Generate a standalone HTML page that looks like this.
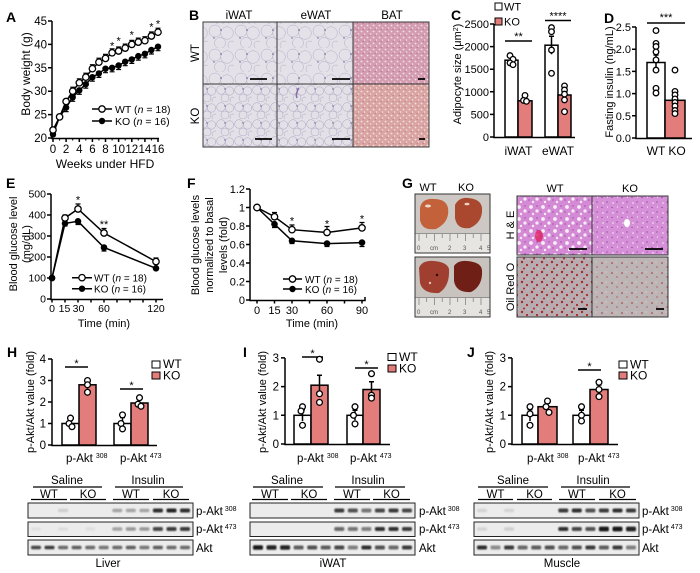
<!DOCTYPE html>
<html><head><meta charset="utf-8"><style>
html,body{margin:0;padding:0;background:#fff;}
svg{display:block;font-family:"Liberation Sans",Arial,sans-serif;}
</style></head><body>
<svg width="700" height="573" viewBox="0 0 700 573" xmlns="http://www.w3.org/2000/svg">
<defs>
<pattern id="adW" width="26" height="24" patternUnits="userSpaceOnUse">
<rect width="26" height="24" fill="#e4e2e8"/>
<g fill="none" stroke="#8a7ca8" stroke-width=".5" opacity=".55"><circle cx="7" cy="7" r="6"/><circle cx="19" cy="9" r="6.3"/><circle cx="12" cy="19" r="5.5"/><circle cx="24" cy="21" r="4"/></g>
<circle cx="13" cy="6" r=".8" fill="#6a5794"/><circle cx="6" cy="14" r=".7" fill="#6a5794"/>
</pattern>
<pattern id="adK" width="18" height="17" patternUnits="userSpaceOnUse">
<rect width="18" height="17" fill="#e3e1e7"/>
<g fill="none" stroke="#8474a4" stroke-width=".5" opacity=".6"><circle cx="5" cy="5" r="4.3"/><circle cx="13.5" cy="6" r="4.2"/><circle cx="9" cy="13" r="4"/><circle cx="17" cy="15" r="3"/></g>
<circle cx="9" cy="4" r=".7" fill="#6a5794"/>
</pattern>
<pattern id="batW" width="6" height="6" patternUnits="userSpaceOnUse">
<rect width="6" height="6" fill="#d49cb0"/><circle cx="1.5" cy="1.5" r=".9" fill="#f3e2e8"/><circle cx="4.5" cy="4" r=".8" fill="#f3e2e8"/><circle cx="3.2" cy="5.3" r=".5" fill="#99557d"/>
</pattern>
<pattern id="batK" width="6" height="6" patternUnits="userSpaceOnUse">
<rect width="6" height="6" fill="#d9a4a2"/><circle cx="1.5" cy="1.5" r=".9" fill="#f4e3e0"/><circle cx="4.5" cy="4" r=".8" fill="#f4e3e0"/><circle cx="3.2" cy="5.3" r=".5" fill="#a46070"/>
</pattern>
<pattern id="heW" width="12" height="12" patternUnits="userSpaceOnUse">
<rect width="12" height="12" fill="#d58ad6"/><circle cx="3" cy="3" r="1.9" fill="#f7eef8"/><circle cx="9" cy="7" r="1.6" fill="#f7eef8"/><circle cx="5" cy="10" r="1.2" fill="#f7eef8"/><circle cx="9" cy="2" r=".6" fill="#7d3592"/><circle cx="1" cy="8" r=".6" fill="#7d3592"/>
</pattern>
<pattern id="heK" width="10" height="10" patternUnits="userSpaceOnUse">
<rect width="10" height="10" fill="#d690d8"/><circle cx="3" cy="3" r=".8" fill="#f7eef8"/><circle cx="7.5" cy="7" r=".6" fill="#f7eef8"/><circle cx="7" cy="2" r=".6" fill="#7d3592"/><circle cx="2" cy="7.5" r=".6" fill="#7d3592"/>
</pattern>
<pattern id="orW" width="10" height="10" patternUnits="userSpaceOnUse">
<rect width="10" height="10" fill="#b8acb0"/><circle cx="2" cy="2" r="1.2" fill="#a52a2a"/><circle cx="7" cy="5" r="1.1" fill="#a52a2a"/><circle cx="4" cy="8.5" r="1" fill="#a52a2a"/><circle cx="8" cy="9" r=".5" fill="#eee"/>
</pattern>
<pattern id="orK" width="10" height="10" patternUnits="userSpaceOnUse">
<rect width="10" height="10" fill="#bdb4b6"/><circle cx="2" cy="3" r=".8" fill="#a83030"/><circle cx="7" cy="7" r=".6" fill="#a83030"/><circle cx="6" cy="2" r=".5" fill="#eee"/>
</pattern>
<filter id="bl" x="-20%" y="-50%" width="140%" height="200%"><feGaussianBlur stdDeviation="0.7"/></filter>
</defs>
<rect width="700" height="573" fill="#fff"/>

<!-- Panel letters -->
<g font-weight="bold" font-size="14">
<text x="6" y="22">A</text><text x="189" y="20">B</text><text x="451" y="20">C</text><text x="604" y="23">D</text>
<text x="6" y="188">E</text><text x="187" y="188">F</text><text x="402" y="188">G</text>
<text x="7" y="357">H</text><text x="243" y="357">I</text><text x="467" y="357">J</text>
</g>

<!-- ===== Panel A ===== -->
<g stroke="#000" stroke-width="1.5" fill="none">
<path d="M52 21V138.5H159"/>
<path d="M48 138H52M48 114.6H52M48 91.2H52M48 67.8H52M48 44.4H52M48 21H52"/>
<path d="M53 138V142M66.1 138V142M79.3 138V142M92.4 138V142M105.5 138V142M118.6 138V142M131.8 138V142M144.9 138V142M158 138V142"/>
<path stroke-width="1" d="M59.6 138V140.5M72.7 138V140.5M85.8 138V140.5M98.9 138V140.5M112.1 138V140.5M125.2 138V140.5M138.3 138V140.5M151.4 138V140.5"/>
</g>
<g font-size="11.5" text-anchor="end">
<text x="47" y="142">20</text><text x="47" y="118.6">25</text><text x="47" y="95.2">30</text><text x="47" y="71.8">35</text><text x="47" y="48.4">40</text><text x="47" y="25">45</text>
</g>
<g font-size="11.5" text-anchor="middle">
<text x="53" y="153">0</text><text x="66.1" y="153">2</text><text x="79.3" y="153">4</text><text x="92.4" y="153">6</text><text x="105.5" y="153">8</text><text x="118.6" y="153">10</text><text x="131.8" y="153">12</text><text x="144.9" y="153">14</text><text x="158" y="153">16</text>
</g>
<text x="105" y="168" font-size="12" text-anchor="middle">Weeks under HFD</text>
<text transform="translate(30,74) rotate(-90)" font-size="12" text-anchor="middle">Body weight (g)</text>
<g stroke="#000" stroke-width="1.2" fill="none">
<path d="M53 134.3V136.3M50.5 136.3h5M59.6 116.9V118.9M57.1 118.9h5M66.1 107.6V111.6M63.6 111.6h5M72.7 97.3V101.3M70.2 101.3h5M79.3 90.3V94.3M76.8 94.3h5M85.8 84.2V88.2M83.3 88.2h5M92.4 77.2V81.2M89.9 81.2h5M98.9 73.4V77.4M96.4 77.4h5M105.5 68.7V72.7M103 72.7h5M112.1 67.8V71.8M109.6 71.8h5M118.6 65.5V69.5M116.1 69.5h5M125.2 61.7V65.7M122.7 65.7h5M131.8 59.4V63.4M129.3 63.4h5M138.3 56.1V60.1M135.8 60.1h5M144.9 53.8V57.8M142.4 57.8h5M151.4 50V54M148.9 54h5M158 46.7V50.7M155.5 50.7h5"/>
<path d="M53 130V128M50.5 128h5M59.6 116.9V114.9M57.1 114.9h5M66.1 101.5V99.5M63.6 99.5h5M72.7 91.2V87.2M70.2 87.2h5M79.3 82.8V78.8M76.8 78.8h5M85.8 77.2V73.2M83.3 73.2h5M92.4 68.7V64.7M89.9 64.7h5M98.9 62.2V58.2M96.4 58.2h5M105.5 58.4V54.4M103 54.4h5M112.1 52.8V48.8M109.6 48.8h5M118.6 51V47M116.1 47h5M125.2 48.1V44.1M122.7 44.1h5M131.8 44.4V40.4M129.3 40.4h5M138.3 42.1V38.1M135.8 38.1h5M144.9 40.7V36.7M142.4 36.7h5M151.4 36V32M148.9 32h5M158 32.2V28.2M155.5 28.2h5"/>
<polyline stroke-width="1.5" points="53,134.3 59.6,116.9 66.1,107.6 72.7,97.3 79.3,90.3 85.8,84.2 92.4,77.2 98.9,73.4 105.5,68.7 112.1,67.8 118.6,65.5 125.2,61.7 131.8,59.4 138.3,56.1 144.9,53.8 151.4,50 158,46.7"/>
<polyline stroke-width="1.5" points="53,130 59.6,116.9 66.1,101.5 72.7,91.2 79.3,82.8 85.8,77.2 92.4,68.7 98.9,62.2 105.5,58.4 112.1,52.8 118.6,51 125.2,48.1 131.8,44.4 138.3,42.1 144.9,40.7 151.4,36 158,32.2"/>
</g>
<g fill="#000">
<circle cx="53" cy="134.3" r="3.2"/><circle cx="59.6" cy="116.9" r="3.2"/><circle cx="66.1" cy="107.6" r="3.2"/><circle cx="72.7" cy="97.3" r="3.2"/><circle cx="79.3" cy="90.3" r="3.2"/><circle cx="85.8" cy="84.2" r="3.2"/><circle cx="92.4" cy="77.2" r="3.2"/><circle cx="98.9" cy="73.4" r="3.2"/><circle cx="105.5" cy="68.7" r="3.2"/><circle cx="112.1" cy="67.8" r="3.2"/><circle cx="118.6" cy="65.5" r="3.2"/><circle cx="125.2" cy="61.7" r="3.2"/><circle cx="131.8" cy="59.4" r="3.2"/><circle cx="138.3" cy="56.1" r="3.2"/><circle cx="144.9" cy="53.8" r="3.2"/><circle cx="151.4" cy="50" r="3.2"/><circle cx="158" cy="46.7" r="3.2"/>
</g>
<g fill="#fff" stroke="#000" stroke-width="1.3">
<circle cx="53" cy="130" r="3.2"/><circle cx="59.6" cy="116.9" r="3.2"/><circle cx="66.1" cy="101.5" r="3.2"/><circle cx="72.7" cy="91.2" r="3.2"/><circle cx="79.3" cy="82.8" r="3.2"/><circle cx="85.8" cy="77.2" r="3.2"/><circle cx="92.4" cy="68.7" r="3.2"/><circle cx="98.9" cy="62.2" r="3.2"/><circle cx="105.5" cy="58.4" r="3.2"/><circle cx="112.1" cy="52.8" r="3.2"/><circle cx="118.6" cy="51" r="3.2"/><circle cx="125.2" cy="48.1" r="3.2"/><circle cx="131.8" cy="44.4" r="3.2"/><circle cx="138.3" cy="42.1" r="3.2"/><circle cx="144.9" cy="40.7" r="3.2"/><circle cx="151.4" cy="36" r="3.2"/><circle cx="158" cy="32.2" r="3.2"/>
</g>
<g font-size="11" text-anchor="middle">
<text x="112.1" y="49.5">*</text><text x="118.6" y="44.5">*</text><text x="131.8" y="38.5">*</text><text x="151.4" y="30.5">*</text><text x="158" y="27.5">*</text>
</g>
<g stroke="#000" stroke-width="1.5"><path d="M92 109H112M92 121H112"/></g>
<circle cx="102" cy="109" r="3.2" fill="#fff" stroke="#000" stroke-width="1.3"/>
<circle cx="102" cy="121" r="3.2" fill="#000"/>
<text x="115" y="113" font-size="10.5">WT (<tspan font-style="italic">n</tspan> = 18)</text>
<text x="115" y="125" font-size="10.5">KO (<tspan font-style="italic">n</tspan> = 16)</text>

<!-- ===== Panel B ===== -->
<g font-size="11.5" text-anchor="middle">
<text x="239" y="19">iWAT</text><text x="316" y="19">eWAT</text><text x="392" y="19">BAT</text>
<text transform="translate(199,53) rotate(-90)">WT</text>
<text transform="translate(199,116) rotate(-90)">KO</text>
</g>
<rect x="203" y="22" width="74" height="62" fill="url(#adW)"/>
<rect x="277" y="22" width="76" height="62" fill="url(#adW)"/>
<rect x="353" y="22" width="76" height="62" fill="url(#batW)"/>
<rect x="203" y="84" width="74" height="63" fill="url(#adK)"/>
<rect x="277" y="84" width="76" height="63" fill="url(#adK)"/>
<rect x="353" y="84" width="76" height="63" fill="url(#batK)"/>
<g fill="none" stroke="#3a3a3a" stroke-width="1">
<rect x="203" y="22" width="74" height="62"/><rect x="277" y="22" width="76" height="62"/><rect x="353" y="22" width="76" height="62"/>
<rect x="203" y="84" width="74" height="63"/><rect x="277" y="84" width="76" height="63"/><rect x="353" y="84" width="76" height="63"/>
</g>
<path d="M299 88q-4 6 -2 10" stroke="#8a6aa8" stroke-width="1.5" fill="none"/>
<g stroke="#000" stroke-width="1.8">
<path d="M250 79H267M332 79H350M418 79H425M255 139H272M332 139H350M419 139H425"/>
</g>

<!-- ===== Panel C ===== -->
<g stroke="#000" stroke-width="1.5" fill="none">
<path d="M494 24V137.5H575"/>
<path d="M490 137H494M490 114.4H494M490 91.8H494M490 69.2H494M490 46.6H494M490 24H494"/>
</g>
<g font-size="11" text-anchor="end">
<text x="489" y="141">0</text><text x="489" y="118.4">500</text><text x="489" y="95.8">1000</text><text x="489" y="73.2">1500</text><text x="489" y="50.6">2000</text><text x="489" y="28">2500</text>
</g>
<text transform="translate(461,74) rotate(-90)" font-size="11" text-anchor="middle">Adipocyte size (μm<tspan font-size="7" dy="-3">2</tspan><tspan dy="3">)</tspan></text>
<g stroke="#000" stroke-width="1.5">
<rect x="505" y="60.2" width="13" height="76.8" fill="#fff"/>
<rect x="518" y="100.8" width="14" height="36.2" fill="#e37d7b"/>
<rect x="545" y="45.2" width="13" height="91.8" fill="#fff"/>
<rect x="558" y="95" width="13" height="42" fill="#e37d7b"/>
<path fill="none" d="M511.5 56.6V63.8M509 56.6h5M525 98.8V102.8M522.5 98.8h5M551.5 36.2V54.2M549 36.2h5M564.5 90.5V99.5M562 90.5h5"/>
<path d="M505 41H532M545 20.5H571"/>
</g>
<g fill="#fff" stroke="#000" stroke-width="1.3">
<circle cx="510" cy="55.6" r="2.8"/><circle cx="513" cy="59.3" r="2.8"/><circle cx="510" cy="62.9" r="2.8"/><circle cx="513" cy="64.7" r="2.8"/>
<circle cx="525" cy="95.4" r="2.8"/><circle cx="523.5" cy="100.4" r="2.8"/><circle cx="526.5" cy="101.3" r="2.8"/>
<circle cx="551.5" cy="27.6" r="2.8"/><circle cx="551.5" cy="31.7" r="2.8"/><circle cx="551.5" cy="50" r="2.8"/><circle cx="551.5" cy="73.3" r="2.8"/>
<circle cx="564.5" cy="85.9" r="2.8"/><circle cx="564.5" cy="90" r="2.8"/><circle cx="564.5" cy="94.1" r="2.8"/><circle cx="564.5" cy="99.9" r="2.8"/><circle cx="564.5" cy="111.7" r="2.8"/>
</g>
<g font-size="11" text-anchor="middle"><text x="518.5" y="40">**</text><text x="558" y="19.5">****</text></g>
<rect x="495" y="3" width="7" height="7" fill="#fff" stroke="#000" stroke-width="1"/>
<text x="504" y="10.5" font-size="11">WT</text>
<rect x="495" y="18" width="7" height="7" fill="#e37d7b" stroke="#000" stroke-width="1"/>
<text x="504" y="25.5" font-size="11">KO</text>
<g font-size="12" text-anchor="middle"><text x="518.5" y="155">iWAT</text><text x="558" y="155">eWAT</text></g>

<!-- ===== Panel D ===== -->
<g stroke="#000" stroke-width="1.5" fill="none">
<path d="M636 27V138.5H692"/>
<path d="M632 138H636M632 115.8H636M632 93.6H636M632 71.4H636M632 49.2H636M632 27H636"/>
</g>
<g font-size="11" text-anchor="end">
<text x="631" y="142">0.0</text><text x="631" y="119.8">0.5</text><text x="631" y="97.6">1.0</text><text x="631" y="75.4">1.5</text><text x="631" y="53.2">2.0</text><text x="631" y="31">2.5</text>
</g>
<text transform="translate(613,82) rotate(-90)" font-size="11" text-anchor="middle">Fasting insulin (ng/mL)</text>
<g stroke="#000" stroke-width="1.5">
<rect x="647" y="62.5" width="18" height="75.5" fill="#fff"/>
<rect x="665" y="100.3" width="20" height="37.7" fill="#e37d7b"/>
<path fill="none" d="M656 55V70M653.5 55h5M675 96.3V104.3M672.5 96.3h5M647 23H685"/>
</g>
<g fill="#fff" stroke="#000" stroke-width="1.3">
<circle cx="656" cy="30.6" r="2.8"/><circle cx="656" cy="43.4" r="2.8"/><circle cx="656" cy="46.5" r="2.8"/><circle cx="656" cy="51.9" r="2.8"/><circle cx="656" cy="59.9" r="2.8"/><circle cx="656" cy="70.1" r="2.8"/><circle cx="656" cy="88.3" r="2.8"/><circle cx="656" cy="93" r="2.8"/>
<circle cx="675" cy="70.1" r="2.8"/><circle cx="675" cy="91.4" r="2.8"/><circle cx="675" cy="94.9" r="2.8"/><circle cx="675" cy="98.9" r="2.8"/><circle cx="675" cy="102.5" r="2.8"/><circle cx="675" cy="106" r="2.8"/><circle cx="675" cy="110.5" r="2.8"/><circle cx="675" cy="113.6" r="2.8"/>
</g>
<text x="666" y="21" font-size="11" text-anchor="middle">***</text>
<g font-size="12" text-anchor="middle"><text x="656" y="155">WT</text><text x="677" y="155">KO</text></g>

<!-- ===== Panel E ===== -->
<g stroke="#000" stroke-width="1.5" fill="none">
<path d="M51 194V299.5H163"/>
<path d="M47 299H51M47 278H51M47 257H51M47 236H51M47 215H51M47 194H51"/>
<path d="M52 299V302.5M65 299V302.5M78 299V302.5M91 299V302.5M104 299V302.5M117 299V302.5M130 299V302.5M143 299V302.5M156 299V302.5"/>
</g>
<g font-size="10.5" text-anchor="end">
<text x="46" y="302.5">0</text><text x="46" y="281.5">100</text><text x="46" y="260.5">200</text><text x="46" y="239.5">300</text><text x="46" y="218.5">400</text><text x="46" y="197.5">500</text>
</g>
<g font-size="10.5" text-anchor="middle">
<text x="52" y="312">0</text><text x="64.5" y="312">15</text><text x="78.5" y="312">30</text><text x="104" y="312">60</text><text x="156" y="312">120</text>
</g>
<text x="104" y="327" font-size="11" text-anchor="middle">Time (min)</text>
<text transform="translate(17,244) rotate(-90)" font-size="11" text-anchor="middle">Blood glucose level</text>
<text transform="translate(30,244) rotate(-90)" font-size="11" text-anchor="middle">(mg/dL)</text>
<g stroke="#000" stroke-width="1.2" fill="none">
<path d="M78 209V204M75.5 204h5M104 233V228.5M101.5 228.5h5M65 218V215M62.5 215h5M156 261.6V258M153.5 258h5"/>
<path d="M65 223.4V226M62.5 226h5M78 221.3V224.5M75.5 224.5h5M104 247.5V251M101.5 251h5"/>
<polyline stroke-width="1.5" points="52,278 65,223.4 78,221.3 104,247.5 156,268.3"/>
<polyline stroke-width="1.5" points="52,278 65,218 78,209 104,233 156,261.6"/>
</g>
<g fill="#000"><circle cx="52" cy="278" r="3.3"/><circle cx="65" cy="223.4" r="3.3"/><circle cx="78" cy="221.3" r="3.3"/><circle cx="104" cy="247.5" r="3.3"/><circle cx="156" cy="268.3" r="3.3"/></g>
<g fill="#fff" stroke="#000" stroke-width="1.3"><circle cx="65" cy="218" r="3.2"/><circle cx="78" cy="209" r="3.2"/><circle cx="104" cy="233" r="3.2"/><circle cx="156" cy="261.6" r="3.2"/></g>
<circle cx="52" cy="278" r="3.3" fill="#000"/>
<g font-size="11" text-anchor="middle"><text x="78" y="203.5">*</text><text x="104" y="228">**</text></g>
<path d="M72 277.7H92M72 288.7H92" stroke="#000" stroke-width="1.5"/>
<circle cx="82" cy="277.7" r="3.2" fill="#fff" stroke="#000" stroke-width="1.3"/>
<circle cx="82" cy="288.7" r="3.2" fill="#000"/>
<text x="94" y="281.5" font-size="10">WT (<tspan font-style="italic">n</tspan> = 18)</text>
<text x="94" y="292.5" font-size="10">KO (<tspan font-style="italic">n</tspan> = 16)</text>

<!-- ===== Panel F ===== -->
<g stroke="#000" stroke-width="1.5" fill="none">
<path d="M250 189V300.5H365V297"/>
<path d="M246 300H250M246 281.5H250M246 263H250M246 244.5H250M246 226H250M246 207.5H250M246 189H250"/>
<path d="M257 300V303.5M274.5 300V303.5M292 300V303.5M309.5 300V303.5M327 300V303.5M344.5 300V303.5M362 300V303.5"/>
</g>
<g font-size="11" text-anchor="end">
<text x="245" y="304">0</text><text x="245" y="285.5">0.2</text><text x="245" y="267">0.4</text><text x="245" y="248.5">0.6</text><text x="245" y="230">0.8</text><text x="245" y="211.5">1</text><text x="245" y="193">1.2</text>
</g>
<g font-size="11" text-anchor="middle">
<text x="257" y="314">0</text><text x="274.5" y="314">15</text><text x="292" y="314">30</text><text x="327" y="314">60</text><text x="362" y="314">90</text>
</g>
<text x="312" y="327" font-size="11" text-anchor="middle">Time (min)</text>
<g font-size="11" text-anchor="middle">
<text transform="translate(199,245) rotate(-90)">Blood glucose levels</text>
<text transform="translate(213,245) rotate(-90)">normalized to basal</text>
<text transform="translate(227,245) rotate(-90)">levels (fold)</text>
</g>
<g stroke="#000" stroke-width="1.2" fill="none">
<path d="M274.5 216.75V212.5M272 212.5h5M292 229.7V225M289.5 225h5M327 232.5V226.5M324.5 226.5h5M362 227.9V222.5M359.5 222.5h5"/>
<path d="M274.5 224.2V227.5M272 227.5h5M292 240.8V243.5M289.5 243.5h5M327 243.6V246.5M324.5 246.5h5M362 242.6V246.5M359.5 246.5h5"/>
<polyline stroke-width="1.5" points="257,207.5 274.5,224.2 292,240.8 327,243.6 362,242.6"/>
<polyline stroke-width="1.5" points="257,207.5 274.5,216.75 292,229.7 327,232.5 362,227.9"/>
</g>
<g fill="#000"><circle cx="274.5" cy="224.2" r="3.3"/><circle cx="292" cy="240.8" r="3.3"/><circle cx="327" cy="243.6" r="3.3"/><circle cx="362" cy="242.6" r="3.3"/></g>
<g fill="#fff" stroke="#000" stroke-width="1.3"><circle cx="257" cy="207.5" r="3.3"/><circle cx="274.5" cy="216.75" r="3.2"/><circle cx="292" cy="229.7" r="3.2"/><circle cx="327" cy="232.5" r="3.2"/><circle cx="362" cy="227.9" r="3.2"/></g>
<g font-size="11" text-anchor="middle"><text x="292" y="224.5">*</text><text x="327" y="227.5">*</text><text x="362" y="222.5">*</text></g>
<path d="M283 279H302M283 289H302" stroke="#000" stroke-width="1.5"/>
<circle cx="292.5" cy="279" r="3.2" fill="#fff" stroke="#000" stroke-width="1.3"/>
<circle cx="292.5" cy="289" r="3.2" fill="#000"/>
<text x="305" y="283" font-size="10">WT (<tspan font-style="italic">n</tspan> = 18)</text>
<text x="305" y="293" font-size="10">KO (<tspan font-style="italic">n</tspan> = 16)</text>

<!-- ===== Panel G ===== -->
<g font-size="11" text-anchor="middle">
<text x="428" y="191">WT</text><text x="466" y="191">KO</text>
<text x="555" y="192">WT</text><text x="630" y="192">KO</text>
</g>
<rect x="415" y="194" width="75" height="59" fill="#cdc8c3"/>
<path d="M420 208q2-10 14-9q12 0 14 9q2 14-12 21q-14 2-16-9z" fill="#c2613a"/>
<path d="M455 205q4-8 13-7q13 1 14 10q1 14-12 20q-13 2-15-10z" fill="#a9482e"/>
<ellipse cx="428" cy="206" rx="3" ry="1.5" fill="#f0d8c8"/><ellipse cx="467" cy="204" rx="2.5" ry="1.3" fill="#f0d0c0"/>
<rect x="415" y="233" width="75" height="20" fill="#e7e5e1"/>
<path d="M415 233.5H490M419 234V241M434.5 234V241M450 234V241M465.5 234V241M481 234V241M426.7 234V238M442.2 234V238M457.7 234V238M473.2 234V238" stroke="#777" stroke-width=".7"/>
<g font-size="6" fill="#555"><text x="417" y="250">0</text><text x="430" y="250">cm</text><text x="448" y="250">2</text><text x="463" y="250">3</text><text x="479" y="250">4</text><text x="487" y="250">5</text></g>
<rect x="415" y="257" width="75" height="60" fill="#c8c3be"/>
<path d="M419 268q3-8 15-7q13 1 15 8q1 17-10 24q-16 1-19-10z" fill="#a03f2f"/>
<path d="M454 266q4-6 13-5q14 1 15 9q1 16-11 22q-15 1-17-11z" fill="#701f17"/>
<circle cx="437" cy="275" r="1.2" fill="#2a0a06"/><circle cx="430" cy="283" r="1.2" fill="#e8c0b0"/>
<rect x="415" y="297" width="75" height="20" fill="#e5e3df"/>
<path d="M415 297.5H490M419 298V305M434.5 298V305M450 298V305M465.5 298V305M481 298V305M426.7 298V302M442.2 298V302M457.7 298V302M473.2 298V302" stroke="#777" stroke-width=".7"/>
<g font-size="6" fill="#555"><text x="417" y="314">0</text><text x="430" y="314">cm</text><text x="448" y="314">2</text><text x="463" y="314">3</text><text x="479" y="314">4</text><text x="487" y="314">5</text></g>
<g fill="none" stroke="#333" stroke-width="1"><rect x="415" y="194" width="75" height="59"/><rect x="415" y="257" width="75" height="60"/></g>
<rect x="517" y="196" width="75" height="59" fill="url(#heW)"/>
<rect x="592" y="196" width="76" height="59" fill="url(#heK)"/>
<rect x="517" y="257" width="75" height="60" fill="url(#orW)"/>
<rect x="592" y="257" width="76" height="60" fill="url(#orK)"/>
<ellipse cx="539" cy="236" rx="4" ry="6" fill="#e02060" opacity=".8"/>
<ellipse cx="627" cy="223" rx="3" ry="4" fill="#fff"/>
<g fill="none" stroke="#333" stroke-width="1"><rect x="517" y="196" width="75" height="59"/><rect x="592" y="196" width="76" height="59"/><rect x="517" y="257" width="75" height="60"/><rect x="592" y="257" width="76" height="60"/></g>
<path d="M569 249H587M645 249H663M578 309H587M656 309H664" stroke="#000" stroke-width="1.8"/>
<g font-size="11" text-anchor="middle">
<text transform="translate(514,225) rotate(-90)">H &amp; E</text>
<text transform="translate(514,287) rotate(-90)">Oil Red O</text>
</g>

<!-- ===== Panel H ===== -->
<g stroke="#000" stroke-width="1.5" fill="none">
<path d="M52 359V445.5H157"/>
<path d="M48 445H52M48 423.5H52M48 402H52M48 380.5H52M48 359H52"/>
</g>
<g font-size="11.5" text-anchor="end"><text x="46" y="449">0</text><text x="46" y="427.5">1</text><text x="46" y="406">2</text><text x="46" y="384.5">3</text><text x="46" y="363">4</text></g>
<text transform="translate(34,402) rotate(-90)" font-size="11" text-anchor="middle">p-Akt/Akt value (fold)</text>
<g stroke="#000" stroke-width="1.5">
<rect x="62" y="423.5" width="17" height="21.5" fill="#fff"/>
<rect x="79" y="384.8" width="17" height="60.2" fill="#e37d7b"/>
<rect x="114" y="423.5" width="17" height="21.5" fill="#fff"/>
<rect x="131" y="403" width="17" height="42" fill="#e37d7b"/>
<path fill="none" d="M70.5 420.5V426.5M68 420.5h5M87.5 380.8V388.8M85 380.8h5M122.5 417.5V429.5M120 417.5h5M139.5 399V407M137 399h5"/>
<path d="M65 367H88M120 389H143"/>
</g>
<g fill="#fff" stroke="#000" stroke-width="1.3">
<circle cx="70.5" cy="418.1" r="2.9"/><circle cx="69" cy="423.5" r="2.9"/><circle cx="72" cy="426.7" r="2.9"/>
<circle cx="87.5" cy="380.5" r="2.9"/><circle cx="87.5" cy="384.8" r="2.9"/><circle cx="87.5" cy="392.3" r="2.9"/>
<circle cx="122.5" cy="414.9" r="2.9"/><circle cx="121" cy="423.5" r="2.9"/><circle cx="122.5" cy="428.9" r="2.9"/>
<circle cx="139.5" cy="397.7" r="2.9"/><circle cx="138" cy="404.2" r="2.9"/><circle cx="141" cy="406.3" r="2.9"/>
</g>
<g font-size="11" text-anchor="middle"><text x="76.5" y="367">*</text><text x="131.5" y="389">*</text></g>
<rect x="152" y="361" width="8" height="7" fill="#fff" stroke="#000" stroke-width="1"/>
<text x="163" y="368" font-size="12">WT</text>
<rect x="152" y="372" width="8" height="7" fill="#e37d7b" stroke="#000" stroke-width="1"/>
<text x="163" y="379.5" font-size="12">KO</text>
<text x="66" y="462" font-size="11.5">p-Akt<tspan font-size="7" dx="3" dy="-4">308</tspan></text>
<text x="120" y="462" font-size="11.5">p-Akt<tspan font-size="7" dx="3" dy="-4">473</tspan></text>

<!-- ===== Panel I ===== -->
<g stroke="#000" stroke-width="1.5" fill="none">
<path d="M285 358V444.5H390"/>
<path d="M281 444H285M281 415.3H285M281 386.6H285M281 357.9H285"/>
</g>
<g font-size="11.5" text-anchor="end"><text x="279" y="448">0</text><text x="279" y="419.3">1</text><text x="279" y="390.6">2</text><text x="279" y="361.9">3</text></g>
<text transform="translate(266,402) rotate(-90)" font-size="11" text-anchor="middle">p-Akt/Akt value (fold)</text>
<g stroke="#000" stroke-width="1.5">
<rect x="294" y="415.3" width="17" height="28.7" fill="#fff"/>
<rect x="311" y="385.2" width="17" height="58.8" fill="#e37d7b"/>
<rect x="347" y="415.3" width="16" height="28.7" fill="#fff"/>
<rect x="363" y="389.5" width="17" height="54.5" fill="#e37d7b"/>
<path fill="none" d="M302.5 409.6V421M300 409.6h5M319.5 375.2V395.2M317 375.2h5M355 410.3V420.3M352.5 410.3h5M371.5 381.8V397.2M369 381.8h5"/>
<path d="M302 357H323M355 368H378"/>
</g>
<g fill="#fff" stroke="#000" stroke-width="1.3">
<circle cx="302.5" cy="406.7" r="2.9"/><circle cx="301" cy="411" r="2.9"/><circle cx="302.5" cy="425.3" r="2.9"/>
<circle cx="319.5" cy="359.3" r="2.9"/><circle cx="319.5" cy="393.8" r="2.9"/><circle cx="319.5" cy="402.4" r="2.9"/>
<circle cx="355" cy="406.7" r="2.9"/><circle cx="353.5" cy="415.3" r="2.9"/><circle cx="355" cy="423.9" r="2.9"/>
<circle cx="371.5" cy="373.7" r="2.9"/><circle cx="371.5" cy="395.2" r="2.9"/><circle cx="371.5" cy="398.1" r="2.9"/>
</g>
<g font-size="11" text-anchor="middle"><text x="312.5" y="357">*</text><text x="366.5" y="368">*</text></g>
<rect x="388" y="353.5" width="8" height="7" fill="#fff" stroke="#000" stroke-width="1"/>
<text x="399" y="361" font-size="12">WT</text>
<rect x="388" y="365" width="8" height="7" fill="#e37d7b" stroke="#000" stroke-width="1"/>
<text x="399" y="372.5" font-size="12">KO</text>
<text x="297" y="462" font-size="11.5">p-Akt<tspan font-size="7" dx="3" dy="-4">308</tspan></text>
<text x="350" y="462" font-size="11.5">p-Akt<tspan font-size="7" dx="3" dy="-4">473</tspan></text>

<!-- ===== Panel J ===== -->
<g stroke="#000" stroke-width="1.5" fill="none">
<path d="M512 358V444.5H618"/>
<path d="M508 444H512M508 415.3H512M508 386.6H512M508 357.9H512"/>
</g>
<g font-size="11.5" text-anchor="end"><text x="506" y="448">0</text><text x="506" y="419.3">1</text><text x="506" y="390.6">2</text><text x="506" y="361.9">3</text></g>
<text transform="translate(493,402) rotate(-90)" font-size="11" text-anchor="middle">p-Akt/Akt value (fold)</text>
<g stroke="#000" stroke-width="1.5">
<rect x="522" y="415.3" width="16" height="28.7" fill="#fff"/>
<rect x="538" y="406.7" width="19" height="37.3" fill="#e37d7b"/>
<rect x="573" y="415.3" width="17" height="28.7" fill="#fff"/>
<rect x="590" y="389.5" width="18" height="54.5" fill="#e37d7b"/>
<path fill="none" d="M530 409.6V421M527.5 409.6h5M547.5 403.2V410.2M545 403.2h5M581.5 410.3V420.3M579 410.3h5M599 385V394M596.5 385h5"/>
<path d="M578 370H601"/>
</g>
<g fill="#fff" stroke="#000" stroke-width="1.3">
<circle cx="530" cy="406.7" r="2.9"/><circle cx="530" cy="413.9" r="2.9"/><circle cx="530" cy="425.3" r="2.9"/>
<circle cx="547.5" cy="401" r="2.9"/><circle cx="546" cy="406.7" r="2.9"/><circle cx="549" cy="412.4" r="2.9"/>
<circle cx="581.5" cy="406.7" r="2.9"/><circle cx="581.5" cy="415.3" r="2.9"/><circle cx="581.5" cy="421" r="2.9"/>
<circle cx="599" cy="382.3" r="2.9"/><circle cx="599" cy="389.5" r="2.9"/><circle cx="599" cy="396.6" r="2.9"/>
</g>
<text x="589.5" y="370" font-size="11" text-anchor="middle">*</text>
<rect x="619" y="361" width="8" height="7" fill="#fff" stroke="#000" stroke-width="1"/>
<text x="630" y="368.5" font-size="12">WT</text>
<rect x="619" y="372" width="8" height="7" fill="#e37d7b" stroke="#000" stroke-width="1"/>
<text x="630" y="379.5" font-size="12">KO</text>
<text x="527" y="462" font-size="11.5">p-Akt<tspan font-size="7" dx="3" dy="-4">308</tspan></text>
<text x="578" y="462" font-size="11.5">p-Akt<tspan font-size="7" dx="3" dy="-4">473</tspan></text>

<!-- ===== Blot headers ===== -->
<g font-size="11.5" text-anchor="middle">
<text x="67" y="484">Saline</text><text x="148" y="484">Insulin</text>
<text x="49" y="498">WT</text><text x="88" y="498">KO</text><text x="131" y="498">WT</text><text x="171" y="498">KO</text>
<text x="287" y="484">Saline</text><text x="368" y="484">Insulin</text>
<text x="270" y="498">WT</text><text x="309" y="498">KO</text><text x="352" y="498">WT</text><text x="391.5" y="498">KO</text>
<text x="513" y="484">Saline</text><text x="593" y="484">Insulin</text>
<text x="495.5" y="498">WT</text><text x="534.5" y="498">KO</text><text x="577" y="498">WT</text><text x="617.5" y="498">KO</text>
<text x="108" y="567">Liver</text><text x="333" y="567">iWAT</text><text x="562" y="567">Muscle</text>
</g>
<g stroke="#000" stroke-width="1.2">
<path d="M33 487H102M115 487H183M31 499.5H67M70 499.5H106M113 499.5H149M153 499.5H189"/>
<path d="M253 487H323M335 487H405M252 499.5H288M291 499.5H327M334 499.5H370M373 499.5H410"/>
<path d="M478 487H548M561 487H630M478 499.5H513M517 499.5H552M559 499.5H595M599 499.5H636"/>
</g>

<!-- Blot boxes -->
<g fill="#ececec" stroke="#222" stroke-width="1">
<rect x="28" y="503" width="165" height="15"/><rect x="28" y="522" width="165" height="14.5"/><rect x="28" y="540" width="165" height="15"/>
<rect x="250" y="503" width="165" height="15"/><rect x="250" y="522" width="165" height="14.5"/><rect x="250" y="540" width="165" height="15"/>
<rect x="474" y="503" width="165" height="15"/><rect x="474" y="522" width="165" height="14.5"/><rect x="474" y="540" width="165" height="15"/>
</g>
<g fill="#111" filter="url(#bl)">
<rect x="58.1" y="508.7" width="10" height="3.6" rx="1.5" opacity=".12"/>
<rect x="112.3" y="508.7" width="10" height="3.6" rx="1.5" opacity=".3"/>
<rect x="125.8" y="508.7" width="10" height="3.6" rx="1.5" opacity=".3"/>
<rect x="139.4" y="508.7" width="10" height="3.6" rx="1.5" opacity=".3"/>
<rect x="152.9" y="508.5" width="10" height="4" rx="1.5" opacity=".85"/>
<rect x="166.5" y="508.5" width="10" height="4" rx="1.5" opacity=".9"/>
<rect x="180" y="508.5" width="10" height="4" rx="1.5" opacity=".85"/>
<rect x="31" y="527.2" width="10" height="3.6" rx="1.5" opacity=".05"/>
<rect x="58.1" y="527.2" width="10" height="3.6" rx="1.5" opacity=".06"/>
<rect x="85.2" y="527.2" width="10" height="3.6" rx="1.5" opacity=".05"/>
<rect x="112.3" y="527.2" width="10" height="3.6" rx="1.5" opacity=".35"/>
<rect x="125.8" y="527.2" width="10" height="3.6" rx="1.5" opacity=".4"/>
<rect x="139.4" y="527.2" width="10" height="3.6" rx="1.5" opacity=".4"/>
<rect x="152.9" y="527" width="10" height="4" rx="1.5" opacity=".75"/>
<rect x="166.5" y="527" width="10" height="4" rx="1.5" opacity=".8"/>
<rect x="180" y="527" width="10" height="4" rx="1.5" opacity=".8"/>
<rect x="31" y="545.7" width="10" height="3.6" rx="1.5" opacity=".75"/>
<rect x="44.5" y="545.7" width="10" height="3.6" rx="1.5" opacity=".8"/>
<rect x="58.1" y="545.7" width="10" height="3.6" rx="1.5" opacity=".6"/>
<rect x="71.6" y="545.7" width="10" height="3.6" rx="1.5" opacity=".65"/>
<rect x="85.2" y="545.7" width="10" height="3.6" rx="1.5" opacity=".6"/>
<rect x="98.7" y="545.7" width="10" height="3.6" rx="1.5" opacity=".55"/>
<rect x="112.3" y="545.7" width="10" height="3.6" rx="1.5" opacity=".6"/>
<rect x="125.8" y="545.7" width="10" height="3.6" rx="1.5" opacity=".65"/>
<rect x="139.4" y="545.7" width="10" height="3.6" rx="1.5" opacity=".55"/>
<rect x="152.9" y="545.7" width="10" height="3.6" rx="1.5" opacity=".65"/>
<rect x="166.5" y="545.7" width="10" height="3.6" rx="1.5" opacity=".6"/>
<rect x="180" y="545.7" width="10" height="3.6" rx="1.5" opacity=".6"/>
<rect x="334.3" y="508.5" width="10" height="4" rx="1.5" opacity=".8"/>
<rect x="347.8" y="508.5" width="10" height="4" rx="1.5" opacity=".7"/>
<rect x="361.4" y="508.5" width="10" height="4" rx="1.5" opacity=".55"/>
<rect x="374.9" y="508.5" width="10" height="4" rx="1.5" opacity=".75"/>
<rect x="388.5" y="508.5" width="10" height="4" rx="1.5" opacity=".8"/>
<rect x="402" y="508.5" width="10" height="4" rx="1.5" opacity=".75"/>
<rect x="334.3" y="527" width="10" height="4" rx="1.5" opacity=".6"/>
<rect x="347.8" y="527" width="10" height="4" rx="1.5" opacity=".55"/>
<rect x="361.4" y="527" width="10" height="4" rx="1.5" opacity=".5"/>
<rect x="374.9" y="527" width="10" height="4" rx="1.5" opacity=".85"/>
<rect x="388.5" y="527" width="10" height="4" rx="1.5" opacity=".85"/>
<rect x="402" y="527" width="10" height="4" rx="1.5" opacity=".8"/>
<rect x="253" y="545.3" width="10" height="4.4" rx="1.5" opacity=".95"/>
<rect x="266.5" y="545.3" width="10" height="4.4" rx="1.5" opacity=".9"/>
<rect x="280.1" y="545.3" width="10" height="4.4" rx="1.5" opacity=".9"/>
<rect x="293.6" y="545.5" width="10" height="4" rx="1.5" opacity=".65"/>
<rect x="307.2" y="545.5" width="10" height="4" rx="1.5" opacity=".7"/>
<rect x="320.7" y="545.5" width="10" height="4" rx="1.5" opacity=".65"/>
<rect x="334.3" y="545.5" width="10" height="4" rx="1.5" opacity=".75"/>
<rect x="347.8" y="545.5" width="10" height="4" rx="1.5" opacity=".5"/>
<rect x="361.4" y="545.5" width="10" height="4" rx="1.5" opacity=".85"/>
<rect x="374.9" y="545.5" width="10" height="4" rx="1.5" opacity=".7"/>
<rect x="388.5" y="545.5" width="10" height="4" rx="1.5" opacity=".6"/>
<rect x="402" y="545.5" width="10" height="4" rx="1.5" opacity=".8"/>
<rect x="477" y="508.7" width="10" height="3.6" rx="1.5" opacity=".1"/>
<rect x="504.1" y="508.7" width="10" height="3.6" rx="1.5" opacity=".1"/>
<rect x="558.3" y="508.5" width="10" height="4" rx="1.5" opacity=".8"/>
<rect x="571.8" y="508.5" width="10" height="4" rx="1.5" opacity=".85"/>
<rect x="585.4" y="508.5" width="10" height="4" rx="1.5" opacity=".7"/>
<rect x="598.9" y="508.5" width="10" height="4" rx="1.5" opacity=".8"/>
<rect x="612.5" y="508.5" width="10" height="4" rx="1.5" opacity=".85"/>
<rect x="626" y="508.5" width="10" height="4" rx="1.5" opacity=".8"/>
<rect x="477" y="527.2" width="10" height="3.6" rx="1.5" opacity=".1"/>
<rect x="504.1" y="527.2" width="10" height="3.6" rx="1.5" opacity=".12"/>
<rect x="558.3" y="527" width="10" height="4" rx="1.5" opacity=".85"/>
<rect x="571.8" y="527" width="10" height="4" rx="1.5" opacity=".75"/>
<rect x="585.4" y="527" width="10" height="4" rx="1.5" opacity=".7"/>
<rect x="598.9" y="526.6" width="10" height="4.8" rx="1.5" opacity=".95"/>
<rect x="612.5" y="526.6" width="10" height="4.8" rx="1.5" opacity=".95"/>
<rect x="626" y="526.6" width="10" height="4.8" rx="1.5" opacity=".9"/>
<rect x="477" y="545.5" width="10" height="4" rx="1.5" opacity=".85"/>
<rect x="490.5" y="545.5" width="10" height="4" rx="1.5" opacity=".45"/>
<rect x="504.1" y="545.5" width="10" height="4" rx="1.5" opacity=".8"/>
<rect x="517.6" y="545.5" width="10" height="4" rx="1.5" opacity=".6"/>
<rect x="531.2" y="545.5" width="10" height="4" rx="1.5" opacity=".65"/>
<rect x="544.7" y="545.5" width="10" height="4" rx="1.5" opacity=".7"/>
<rect x="558.3" y="545.5" width="10" height="4" rx="1.5" opacity=".6"/>
<rect x="571.8" y="545.5" width="10" height="4" rx="1.5" opacity=".7"/>
<rect x="585.4" y="545.5" width="10" height="4" rx="1.5" opacity=".8"/>
<rect x="598.9" y="545.5" width="10" height="4" rx="1.5" opacity=".65"/>
<rect x="612.5" y="545.5" width="10" height="4" rx="1.5" opacity=".8"/>
<rect x="626" y="545.5" width="10" height="4" rx="1.5" opacity=".5"/>
</g>
<g font-size="11.5">
<text x="196" y="515">p-Akt<tspan font-size="7" dx="2" dy="-4">308</tspan></text>
<text x="196" y="533">p-Akt<tspan font-size="7" dx="2" dy="-4">473</tspan></text>
<text x="196" y="552">Akt</text>
<text x="419" y="515">p-Akt<tspan font-size="7" dx="2" dy="-4">308</tspan></text>
<text x="419" y="533">p-Akt<tspan font-size="7" dx="2" dy="-4">473</tspan></text>
<text x="419" y="552">Akt</text>
<text x="642" y="515">p-Akt<tspan font-size="7" dx="2" dy="-4">308</tspan></text>
<text x="642" y="533">p-Akt<tspan font-size="7" dx="2" dy="-4">473</tspan></text>
<text x="642" y="552">Akt</text>
</g>
</svg>
</body></html>
